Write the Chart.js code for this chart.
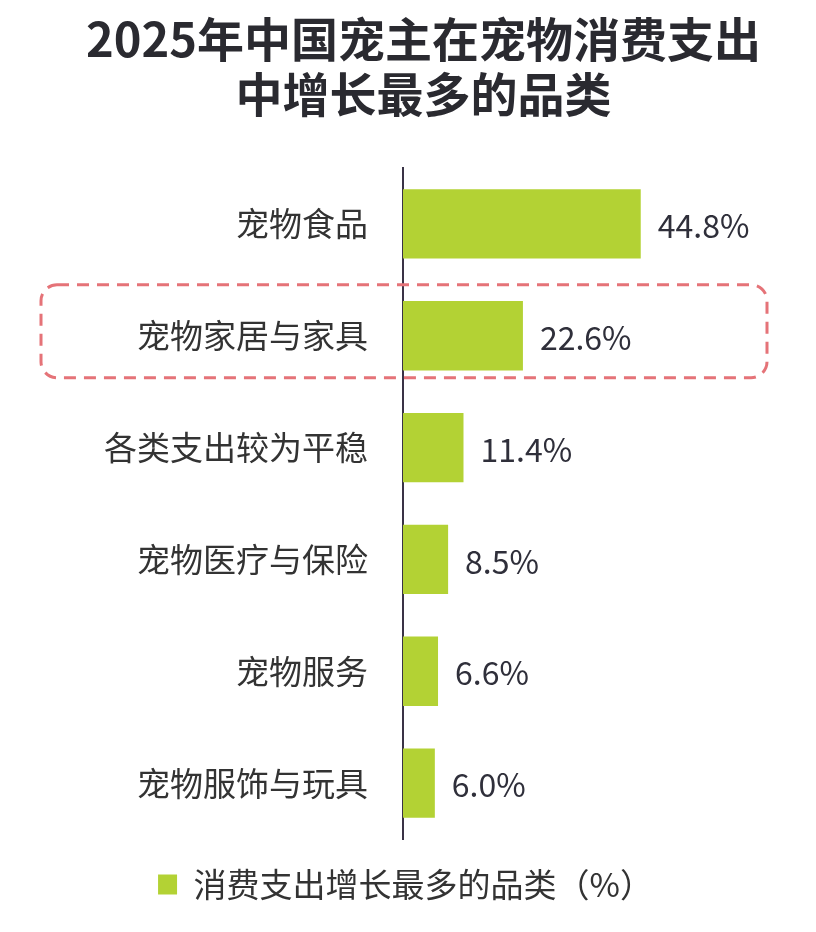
<!DOCTYPE html>
<html>
<head>
<meta charset="utf-8">
<script src="https://cdn.jsdelivr.net/npm/chart.js@4/dist/chart.umd.min.js"></script>
<style>
html,body{margin:0;padding:0;background:#fff;}
#wrap{width:816px;height:932px;position:relative;}
</style>
</head>
<body>
<div id="wrap"><canvas id="c"></canvas></div>
<script>
const titleLines = ['2025年中国宠主在宠物消费支出', '中增长最多的品类'];
const categories = ['宠物食品', '宠物家居与家具', '各类支出较为平稳', '宠物医疗与保险', '宠物服务', '宠物服饰与玩具'];
const values = [44.8, 22.6, 11.4, 8.5, 6.6, 6.0];
const seriesName = '消费支出增长最多的品类（%）';
const highlightIndex = 1;

const FONT = '"Noto Sans CJK SC", "Noto Sans", sans-serif';

const shiftBoxes = {
  id: 'shiftBoxes',
  afterLayout(chart) {
    if (chart.titleBlock) { chart.titleBlock.left += 23; chart.titleBlock.right += 23; }
    if (chart.legend) { chart.legend.left += 5; chart.legend.right += 5; }
  }
};

const valueLabels = {
  id: 'valueLabels',
  afterDatasetsDraw(chart) {
    const ctx = chart.ctx;
    const meta = chart.getDatasetMeta(0);
    ctx.save();
    ctx.font = '400 32px ' + FONT;
    ctx.fillStyle = '#2f2f3a';
    ctx.textAlign = 'left';
    ctx.textBaseline = 'middle';
    meta.data.forEach((bar, i) => {
      ctx.fillText(values[i].toFixed(1) + '%', bar.x + 17, bar.y + 2);
    });
    ctx.restore();
  }
};

const highlightBox = {
  id: 'highlightBox',
  afterDraw(chart) {
    const ctx = chart.ctx;
    const y = chart.scales.y.getPixelForValue(highlightIndex);
    const x0 = 41, x1 = 767, y0 = y - 51, y1 = y + 42, r = 16;
    ctx.save();
    ctx.strokeStyle = '#e57378';
    ctx.lineWidth = 3;
    ctx.setLineDash([12, 8]);
    ctx.beginPath();
    ctx.moveTo(x0 + r, y0);
    ctx.lineTo(x1 - r, y0);
    ctx.arcTo(x1, y0, x1, y0 + r, r);
    ctx.lineTo(x1, y1 - r);
    ctx.arcTo(x1, y1, x1 - r, y1, r);
    ctx.lineTo(x0 + r, y1);
    ctx.arcTo(x0, y1, x0, y1 - r, r);
    ctx.lineTo(x0, y0 + r);
    ctx.arcTo(x0, y0, x0 + r, y0, r);
    ctx.closePath();
    ctx.stroke();
    ctx.restore();
  }
};

new Chart(document.getElementById('c'), {
  type: 'bar',
  data: {
    labels: categories,
    datasets: [{
      label: seriesName,
      data: values,
      backgroundColor: '#b3d234',
      borderWidth: 0,
      categoryPercentage: 1,
      barPercentage: 0.62
    }]
  },
  options: {
    indexAxis: 'y',
    responsive: true,
    maintainAspectRatio: false,
    animation: false,
    devicePixelRatio: 1,
    layout: { padding: { left: 0, right: 15, top: 0, bottom: 21 } },
    scales: {
      x: { display: false, min: 0, max: 75 },
      y: {
        grid: { display: false, drawTicks: false },
        border: { display: true, color: '#3a3346', width: 2 },
        ticks: { font: { size: 33, family: FONT }, color: '#333', padding: 35 },
        afterFit(scale) { scale.width = 403; }
      }
    },
    plugins: {
      title: {
        display: true,
        text: titleLines,
        color: '#2a2a30',
        font: { size: 47, weight: 'bold', family: FONT, lineHeight: 1.17 },
        padding: { top: 12, bottom: 46 }
      },
      legend: {
        position: 'bottom',
        labels: {
          boxWidth: 19, boxHeight: 20,
          color: '#333',
          font: { size: 33, family: FONT },
          padding: 29
        }
      },
      tooltip: { enabled: false }
    }
  },
  plugins: [shiftBoxes, valueLabels, highlightBox]
});
</script>
</body>
</html>
